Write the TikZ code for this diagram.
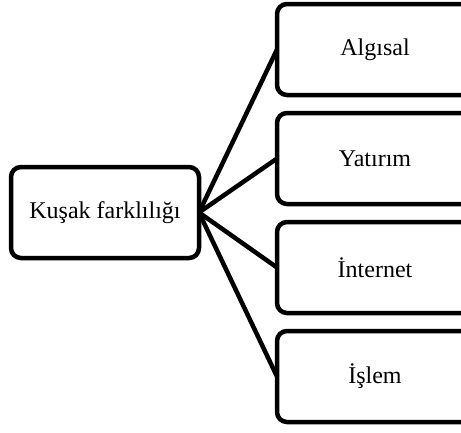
\documentclass[tikz,border=0pt]{standalone}
\usepackage{fontspec}
\setmainfont{Liberation Serif}
\usetikzlibrary{positioning}

\tikzset{kutu/.style={draw, line width=4.5pt, rounded corners=10pt, outer sep=0pt,
    font=\fontsize{24}{28}\selectfont},
  sol/.style={kutu, minimum width=188pt, minimum height=91pt},
  sag/.style={kutu, minimum width=196pt, minimum height=91pt},
  bag/.style={line width=4.5pt}}

\begin{document}
\begin{tikzpicture}[x=1pt, y=-1pt]
    \useasboundingbox (0,0) rectangle (461,432);
    % kutular
    \node[sol] (kusak) at (105,212.5) {Kuşak farklılığı};
    \node[sag] (algisal) at (375,49.5) {Algısal};
    \node[sag, below=18pt of algisal] (yatirim) {Yatırım};
    \node[sag, below=18pt of yatirim] (internet) {İnternet};
    \node[sag, below=18pt of internet] (islem) {İşlem};
    % baglantilar
    \foreach \n in {algisal, yatirim, internet, islem}
      \draw[bag] (kusak.east) -- (\n.west);
\end{tikzpicture}
\end{document}
